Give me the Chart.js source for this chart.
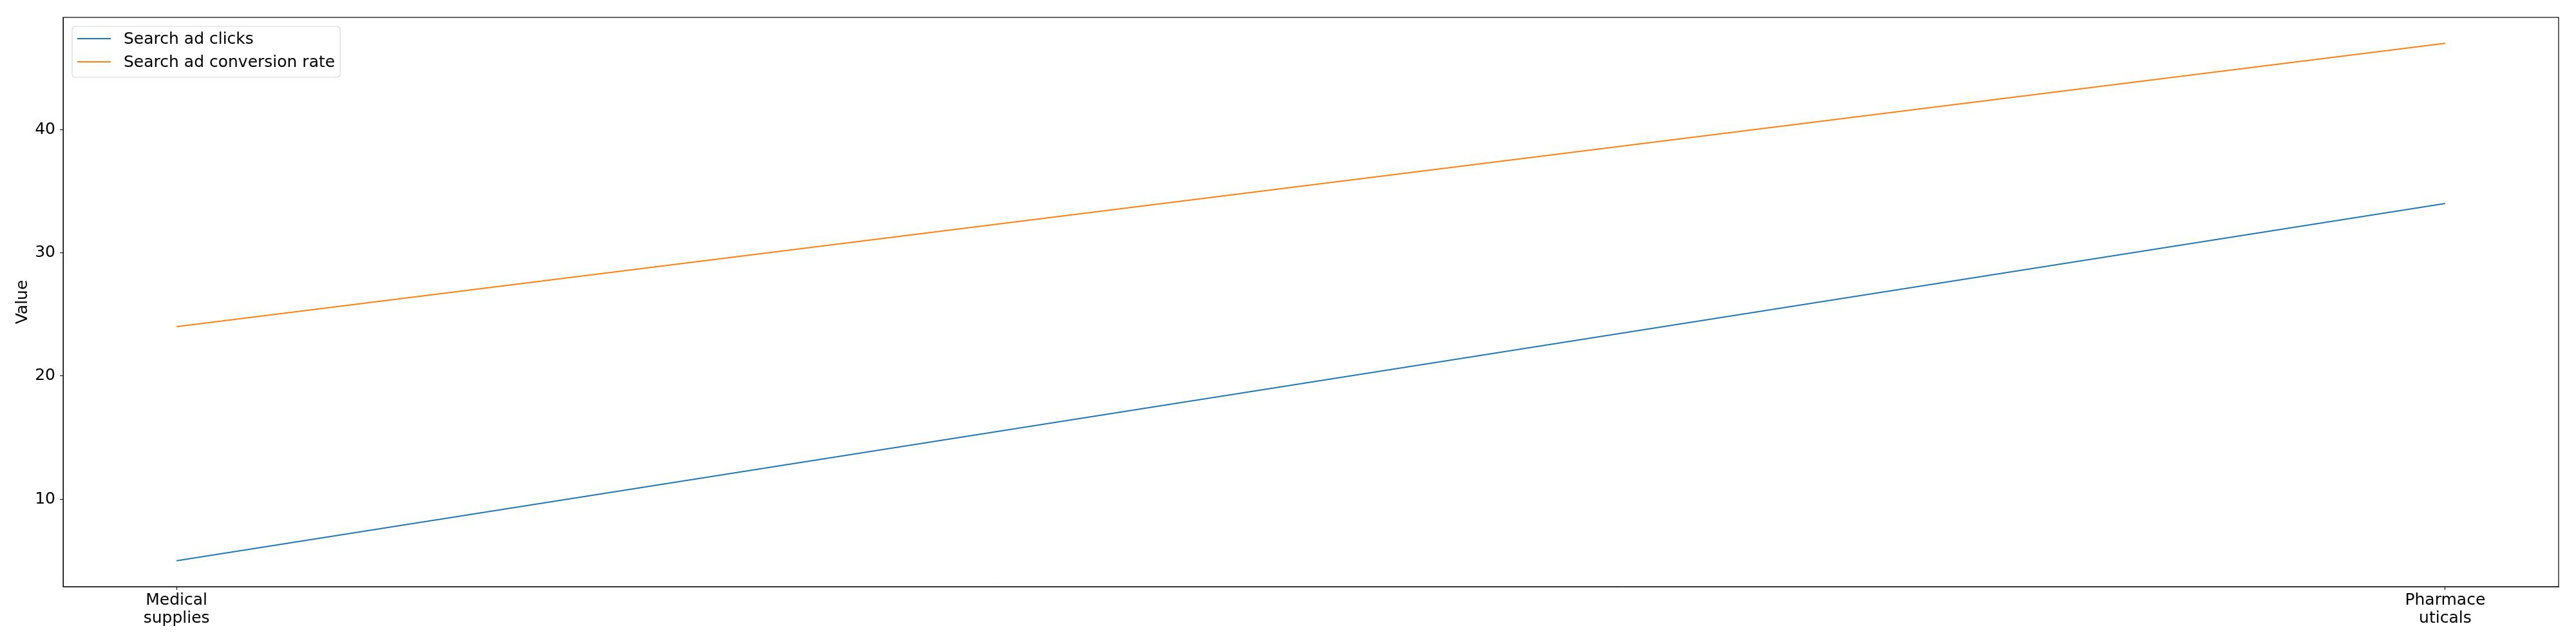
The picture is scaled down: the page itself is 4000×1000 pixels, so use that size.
<!DOCTYPE html>
<html>
<head>
<meta charset="utf-8">
<script src="https://cdn.jsdelivr.net/npm/chart.js@4/dist/chart.umd.min.js"></script>
<style>
  html, body { margin: 0; padding: 0; background: #fff; }
  canvas { display: block; }
</style>
</head>
<body>
<canvas id="chart" width="4000" height="1000"></canvas>
<script>
// data
const categories = [['Medical', 'supplies'], ['Pharmace', 'uticals']];
const seriesNames = ['Search ad clicks', 'Search ad conversion rate'];
const clicks = [5, 34];
const conversionRate = [24, 47];
const yTicks = [10, 20, 30, 40];

const FONT = 'DejaVu Sans';

function toPoints(values) {
    return values.map((v, i) => ({ x: i, y: v }));
}

// frame round the plot area (matplotlib style box)
const frame = {
    id: 'frame',
    afterDatasetsDraw(chart) {
        const a = chart.chartArea;
        const ctx = chart.ctx;
        ctx.save();
        ctx.strokeStyle = '#000';
        ctx.lineWidth = 1.2;
        ctx.strokeRect(a.left, a.top, a.right - a.left, a.bottom - a.top);
        ctx.restore();
    }
};

// legend drawn inside the plot, top left
const innerLegend = {
    id: 'innerLegend',
    afterDraw(chart) {
        const a = chart.chartArea;
        const ctx = chart.ctx;
        const sets = chart.data.datasets;
        ctx.save();
        ctx.font = '25px "' + FONT + '"';
        const textW = Math.max(...sets.map(ds => ctx.measureText(ds.label).width));
        const x = a.left + 14, y = a.top + 14;
        const w = 80 + textW + 8, h = 79;

        ctx.fillStyle = 'rgba(255,255,255,0.8)';
        ctx.strokeStyle = '#d6d6d6';
        ctx.lineWidth = 1.2;
        ctx.beginPath();
        ctx.roundRect(x, y, w, h, 5);
        ctx.fill();
        ctx.stroke();

        ctx.textBaseline = 'middle';
        ctx.fillStyle = '#000';
        sets.forEach((ds, i) => {
            const cy = y + 19 + i * 36;
            ctx.strokeStyle = ds.borderColor;
            ctx.lineWidth = 2;
            ctx.beginPath();
            ctx.moveTo(x + 8, cy);
            ctx.lineTo(x + 60, cy);
            ctx.stroke();
            ctx.fillText(ds.label, x + 80, cy + 1);
        });
        ctx.restore();
    }
};

new Chart(document.getElementById('chart').getContext('2d'), {
    type: 'line',
    data: {
        datasets: [
            {
                label: seriesNames[0],
                data: toPoints(clicks),
                borderColor: '#1f77b4',
                borderWidth: 2,
                pointRadius: 0,
                fill: false
            },
            {
                label: seriesNames[1],
                data: toPoints(conversionRate),
                borderColor: '#ff7f0e',
                borderWidth: 2,
                pointRadius: 0,
                fill: false
            }
        ]
    },
    options: {
        responsive: false,
        animation: false,
        devicePixelRatio: 1,
        layout: { padding: { top: 27, right: 27, left: 0, bottom: 0 } },
        plugins: {
            legend: { display: false },
            tooltip: { enabled: false }
        },
        scales: {
            x: {
                type: 'linear',
                min: -0.05,
                max: 1.05,
                afterBuildTicks: (axis) => { axis.ticks = categories.map((c, i) => ({ value: i })); },
                afterFit: (axis) => { axis.height = 89; },
                grid: { drawOnChartArea: false, drawTicks: true, tickLength: 5, color: '#000' },
                border: { color: '#000' },
                ticks: {
                    color: '#000',
                    padding: 2,
                    maxRotation: 0,
                    font: { family: FONT, size: 25, lineHeight: 1.12 },
                    callback: (v) => categories[v]
                }
            },
            y: {
                min: 2.9,
                max: 49.1,
                afterBuildTicks: (axis) => { axis.ticks = yTicks.map(v => ({ value: v })); },
                afterFit: (axis) => { axis.width = 98; },
                grid: { drawOnChartArea: false, drawTicks: true, tickLength: 5, color: '#000' },
                border: { color: '#000' },
                title: {
                    display: true,
                    text: 'Value',
                    color: '#000',
                    padding: { top: 23, bottom: 0 },
                    font: { family: FONT, size: 25, lineHeight: 1 }
                },
                ticks: {
                    color: '#000',
                    padding: 7,
                    font: { family: FONT, size: 25 }
                }
            }
        }
    },
    plugins: [frame, innerLegend]
});
</script>
</body>
</html>
